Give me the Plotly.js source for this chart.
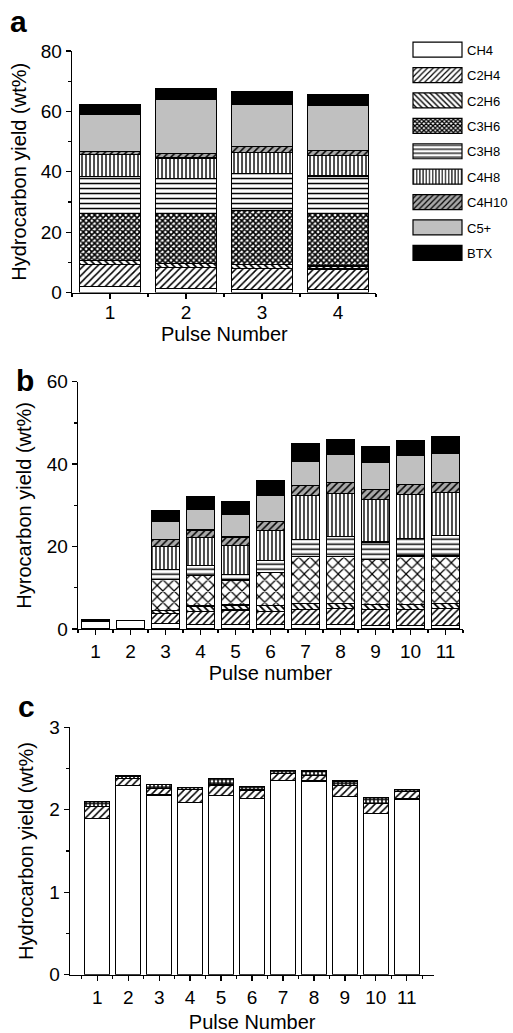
<!DOCTYPE html>
<html>
<head>
<meta charset="utf-8">
<script src="https://cdn.plot.ly/plotly-3.0.1.min.js"></script>
<style>
html,body{margin:0;padding:0;background:#fff;}
#chart{width:513px;height:1033px;}
</style>
</head>
<body>
<div id="chart"></div>
<script>
// ---------- DATA ----------
const species = ['CH4','C2H4','C2H6','C3H6','C3H8','C4H8','C4H10','C5+','BTX'];

// Panel a (pulse 1-4), layer thickness in wt%
const pulsesA = [1, 2, 3, 4];
const aCH4   = [1.9, 1.4, 1.0, 1.0];
const aC2H4  = [7.4, 6.8, 7.0, 6.8];
const aC2H6  = [1.4, 1.3, 1.3, 1.0];
const aC3H6  = [15.6, 16.6, 18.0, 17.4];
const aC3H8  = [12.2, 11.6, 12.2, 12.4];
const aC4H8  = [7.2, 6.9, 6.9, 6.9];
const aC4H10 = [1.0, 1.4, 1.9, 1.6];
const aC5    = [12.2, 17.9, 14.0, 15.0];
const aBTX   = [3.5, 3.6, 4.2, 3.6];

// Panel b (pulse 1-11)
const pulsesB = [1, 2, 3, 4, 5, 6, 7, 8, 9, 10, 11];
const bCH4   = [1.9, 2.0, 1.3, 1.1, 1.0, 1.0, 1.0, 1.0, 0.8, 0.8, 0.9];
const bC2H4  = [0.25, 0.1, 2.5, 3.1, 3.6, 3.2, 3.7, 4.0, 4.0, 4.0, 4.0];
const bC2H6  = [0.1, 0.05, 0.6, 1.4, 1.2, 1.5, 1.4, 1.1, 1.2, 1.2, 1.3];
const bC3H6  = [0, 0, 7.7, 7.3, 6.1, 8.1, 11.4, 11.4, 10.9, 11.7, 11.5];
const bC3H8  = [0, 0, 2.4, 2.6, 1.4, 2.9, 4.3, 5.0, 4.2, 4.3, 4.9];
const bC4H8  = [0, 0, 5.6, 6.7, 6.9, 7.2, 10.5, 10.4, 10.4, 10.6, 10.6];
const bC4H10 = [0, 0, 1.7, 1.8, 2.1, 2.1, 2.5, 2.6, 2.4, 2.5, 2.4];
const bC5    = [0, 0, 4.2, 5.1, 5.4, 6.3, 5.8, 6.8, 6.6, 6.9, 6.9];
const bBTX   = [0, 0, 2.8, 3.0, 3.2, 3.7, 4.3, 3.7, 3.8, 3.8, 4.3];

// Panel c (pulse 1-11)
const pulsesC = [1, 2, 3, 4, 5, 6, 7, 8, 9, 10, 11];
const cCH4  = [1.89, 2.29, 2.18, 2.09, 2.17, 2.14, 2.36, 2.35, 2.16, 1.96, 2.13];
const cC2H4 = [0.15, 0.09, 0.08, 0.16, 0.13, 0.10, 0.08, 0.07, 0.13, 0.12, 0.09];
const cC2H6 = [0.06, 0.03, 0.05, 0.02, 0.08, 0.04, 0.04, 0.05, 0.06, 0.07, 0.03];

// ---------- STYLES ----------
const FONT = 'Liberation Sans, Arial, Helvetica, sans-serif';
function style(name, panel) {
  const big = panel === 'b';
  switch (name) {
    case 'CH4':   return {color:'#ffffff'};
    case 'C2H4':  return {color:'#ffffff', pattern:{shape:'/', bgcolor:'#ffffff', fgcolor:'#000', size:5, solidity:0.3}};
    case 'C2H6':  return {color:'#ffffff', pattern:{shape:'\\', bgcolor:'#ffffff', fgcolor:'#000', size:5, solidity:0.35}};
    case 'C3H6':  return big ? {color:'#ffffff', pattern:{shape:'x', bgcolor:'#ffffff', fgcolor:'#000', size:8, solidity:0.28}}
                             : {color:'#ffffff', pattern:{shape:'x', bgcolor:'#ffffff', fgcolor:'#000', size:4, solidity:0.65}};
    case 'C3H8':  return {color:'#ffffff', pattern:{shape:'-', bgcolor:'#ffffff', fgcolor:'#000', size:5, solidity:0.3}};
    case 'C4H8':  return {color:'#ffffff', pattern:{shape:'|', bgcolor:'#ffffff', fgcolor:'#000', size:4, solidity:0.35}};
    case 'C4H10': return {color:'#9a9a9a', pattern:{shape:'/', bgcolor:'#a8a8a8', fgcolor:'#000', size:5, solidity:0.3}};
    case 'C5+':   return {color:'#c0c0c0'};
    case 'BTX':   return {color:'#000000'};
  }
}
const topDots = {color:'#ffffff', pattern:{shape:'.', bgcolor:'#111', fgcolor:'#fff', size:4, solidity:0.35}};

function barTrace(name, x, y, xa, ya, panel, showlegend, mk) {
  const m = Object.assign({line:{color:'#000', width:1.2}}, mk || style(name, panel));
  return {type:'bar', name:name, x:x, y:y, xaxis:xa, yaxis:ya, marker:m,
          showlegend:showlegend, legendgroup:name, hoverinfo:'x+y+name'};
}

const seriesA = [aCH4, aC2H4, aC2H6, aC3H6, aC3H8, aC4H8, aC4H10, aC5, aBTX];
const seriesB = [bCH4, bC2H4, bC2H6, bC3H6, bC3H8, bC4H8, bC4H10, bC5, bBTX];

const traces = [];
species.forEach((s, i) => traces.push(barTrace(s, pulsesA, seriesA[i], 'x', 'y', 'a', true)));
species.forEach((s, i) => traces.push(barTrace(s, pulsesB, seriesB[i], 'x2', 'y2', 'b', false)));
traces.push(barTrace('CH4', pulsesC, cCH4, 'x3', 'y3', 'c', false));
traces.push(barTrace('C2H4', pulsesC, cC2H4, 'x3', 'y3', 'c', false));
traces.push(barTrace('C2H6', pulsesC, cC2H6, 'x3', 'y3', 'c', false, topDots));

function axis(extra) {
  return Object.assign({
    showline:true, linecolor:'#000', linewidth:1.3, ticks:'outside', ticklen:5, tickwidth:1.3,
    tickcolor:'#000', showgrid:false, zeroline:false, fixedrange:true,
    tickfont:{family:FONT, size:19, color:'#000'}
  }, extra);
}
const titleFont = {family:FONT, size:20, color:'#000'};
const xminor = {tick0:0.5, dtick:1, ticklen:3, tickwidth:1.3, tickcolor:'#000', ticks:'outside'};
function yminor(d) { return {dtick:d, ticklen:3, tickwidth:1.3, tickcolor:'#000', ticks:'outside'}; }

const layout = {
  width:513, height:1033, margin:{l:0, r:0, t:0, b:0},
  paper_bgcolor:'#fff', plot_bgcolor:'rgba(0,0,0,0)',
  barmode:'stack', bargap:0.2,
  font:{family:FONT, color:'#000'},
  showlegend:true,
  legend:{x:0.7934, y:0.9664, xanchor:'left', yanchor:'top', traceorder:'grouped',
          tracegroupgap:5.5, itemwidth:50, font:{family:FONT, size:13, color:'#000'},
          bgcolor:'rgba(0,0,0,0)', borderwidth:0, itemclick:false, itemdoubleclick:false},
  xaxis: axis({domain:[0.1404, 0.733], anchor:'y', range:[0.5, 4.5], tickmode:'linear', tick0:1, dtick:1, minor:xminor,
               ticklabelstandoff:-3}),
  yaxis: axis({domain:[0.7168, 0.9506], anchor:'x', range:[0, 80], tickmode:'linear', tick0:0, dtick:20,
               minor:yminor(10), title:{text:'Hydrocarbon yield (wt%)', font:titleFont, standoff:8}}),
  xaxis2: axis({domain:[0.152, 0.9025], anchor:'y2', range:[0.5, 11.5], tickmode:'linear', tick0:1, dtick:1, minor:xminor,
                title:{text:'Pulse number', font:titleFont, standoff:3}}),
  yaxis2: axis({domain:[0.3911, 0.6305], anchor:'x2', range:[0, 60], tickmode:'linear', tick0:0, dtick:20,
                minor:yminor(10), title:{text:'Hyrocarbon yield (wt%)', font:titleFont, standoff:9}}),
  xaxis3: axis({domain:[0.1365, 0.8466], anchor:'y3', range:[0.12, 11.89], tickmode:'linear', tick0:1, dtick:1, minor:xminor,
                title:{text:'Pulse Number', font:titleFont, standoff:17}}),
  yaxis3: axis({domain:[0.0564, 0.2959], anchor:'x3', range:[0, 3], tickmode:'linear', tick0:0, dtick:1,
                minor:yminor(0.5), title:{text:'Hydrocarbon yield (wt%)', font:titleFont, standoff:10}}),
  annotations:[
    {text:'Pulse Number', xref:'x domain', yref:'paper', x:0.5, y:1-334/1033, xanchor:'center', yanchor:'middle', showarrow:false, font:titleFont},
    {text:'<b>a</b>', xref:'paper', yref:'paper', x:8/513, y:1-40/1033, xanchor:'left', yanchor:'bottom', showarrow:false, font:{family:FONT, size:30, color:'#000'}},
    {text:'<b>b</b>', xref:'paper', yref:'paper', x:14/513, y:1-399/1033, xanchor:'left', yanchor:'bottom', showarrow:false, font:{family:FONT, size:30, color:'#000'}},
    {text:'<b>c</b>', xref:'paper', yref:'paper', x:16/513, y:1-725/1033, xanchor:'left', yanchor:'bottom', showarrow:false, font:{family:FONT, size:30, color:'#000'}}
  ]
};

const gd = document.getElementById('chart');
function widenLegend() {
  gd.querySelectorAll('.legend .legendpoints path').forEach(function(p){
    p.setAttribute('d', 'M24.5,7.5H-24.5V-7.5H24.5Z');
    p.setAttribute('transform', 'translate(30.5,0)');
  });
}
Plotly.newPlot(gd, traces, layout, {staticPlot:true, displayModeBar:false}).then(function(){
  widenLegend();
  setTimeout(widenLegend, 0);
  setTimeout(widenLegend, 100);
});
gd.on && gd.on('plotly_afterplot', widenLegend);
</script>
</body>
</html>
